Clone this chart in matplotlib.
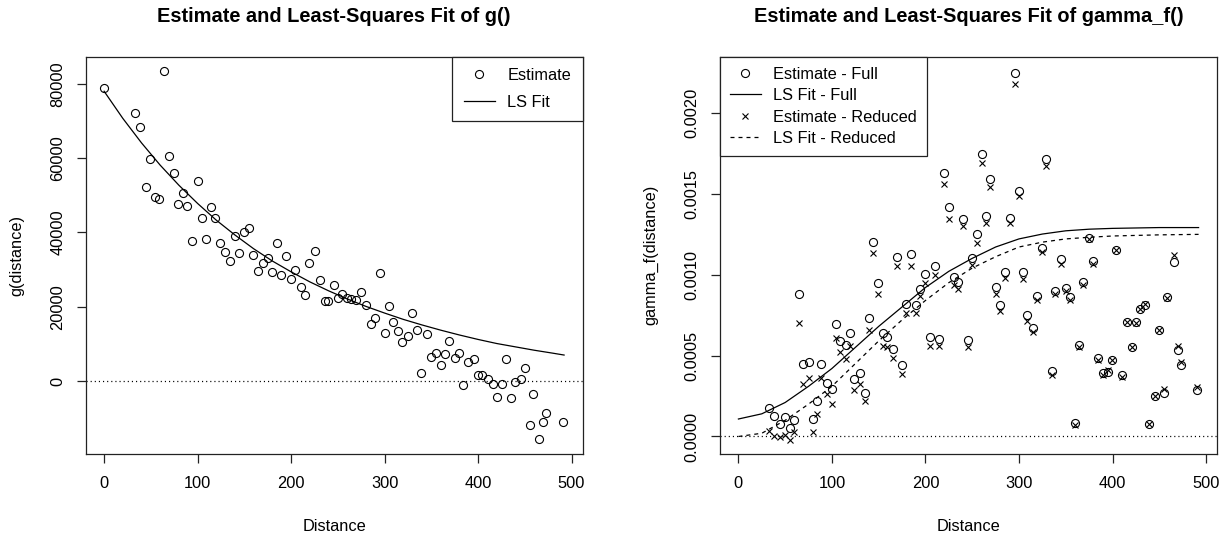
import matplotlib
matplotlib.use("Agg")
import matplotlib.pyplot as plt
import numpy as np

plt.rcParams['font.family'] = ['Liberation Sans', 'DejaVu Sans']

# ---- left panel: empirical g() and its LS fit
g_dist = [0, 33, 38.3, 44.3, 49.6, 54.3, 58.9, 64.5, 69, 75.2, 79.4, 84, 88.3, 94.3,
          100, 104.6, 108.9, 114.5, 119, 123.8, 129.4, 135, 139.7, 144.3, 149.6, 154.6,
          158.9, 164.9, 169.5, 175.2, 179.8, 185.1, 189.7, 194.3, 199.6, 204.6, 210.3,
          214.9, 219, 225.2, 230.5, 235.8, 240, 245.4, 250, 254.6, 259.9, 264.2, 269.5,
          274.8, 279.8, 285.1, 289.7, 295.4, 300, 304.3, 309.2, 314.6, 319.1, 324.8,
          329.4, 335.1, 338.6, 345.4, 350, 354.6, 360.3, 364.6, 369.1, 375.2, 379.8,
          384, 389.7, 395.4, 400, 404.3, 410.3, 416, 420.6, 425.2, 429.5, 435.1, 439.7,
          445.4, 450, 455.3, 459.2, 465.6, 469.5, 472.7, 491.1]
g_est = [79000, 72200, 68430, 52100, 59800, 49500, 49100, 83330, 60600, 56000, 47770,
         50560, 47230, 37720, 53800, 44000, 38250, 46880, 44000, 37090, 34840, 32240,
         39150, 34570, 40230, 41130, 33940, 29640, 31880, 33040, 29360, 37090, 28560,
         33680, 27480, 29900, 25320, 23250, 31700, 35100, 27200, 21470, 21470, 25860,
         22360, 23350, 22360, 22090, 21730, 23890, 20470, 15270, 16890, 29010, 12930,
         20120, 15810, 13470, 10590, 12040, 18400, 13820, 2240, 12660, 6550, 7460, 4230,
         7190, 10690, 6280, 7460, -1160, 5120, 6010, 1700, 1700, 540, -890, -4310, -890,
         6010, -4580, -270, 540, 3420, -11770, -3500, -15540, -10960, -8710, -10960]

g_fit_dist = [0, 20, 40, 60, 80, 100, 120, 140, 160, 180, 200, 220, 240, 260, 280,
              300, 320, 340, 360, 380, 400, 420, 440, 460, 480, 492]
g_fit = [78000, 70700, 64100, 58100, 52700, 47800, 43300, 39300, 35600, 32300, 29400,
         26700, 24300, 22100, 20100, 18300, 16600, 15100, 13700, 12400, 11200, 10100,
         9200, 8300, 7500, 7000]

# ---- right panel: gamma_f() for the full and reduced models
gf_dist = [32.9, 38.5, 44.2, 49.9, 54.9, 59.4, 64.8, 69.4, 75.0, 79.3, 84.2, 88.5, 94.8,
           99.8, 104.8, 109.0, 114.6, 119.6, 123.9, 129.6, 135.6, 139.8, 144.4, 149.7,
           155.0, 159.2, 165.3, 169.1, 174.8, 179.7, 185.0, 189.7, 194.6, 199.9, 204.9,
           209.8, 214.8, 219.4, 224.9, 230.4, 235.3, 239.6, 245.2, 250.2, 254.8, 260.4,
           265.1, 269.3, 275.0, 279.9, 284.8, 290.5, 295.5, 299.7, 304.6, 309.0, 315.0,
           319.5, 324.8, 329.1, 335.1, 338.3, 345.3, 350.0, 354.2, 360.2, 364.4, 368.9,
           374.7, 379.0, 384.2, 389.6, 395.3, 399.9, 403.7, 410.1, 415.8, 420.4, 424.6,
           429.2, 435.2, 439.5, 445.1, 449.8, 455.4, 458.6, 465.7, 469.6, 473.4, 490.8]
gf_full = [0.000174, 0.000129, 0.000075, 0.000118, 0.000055, 0.000100, 0.000879, 0.000447,
           0.000461, 0.000108, 0.000218, 0.000447, 0.000330, 0.000291, 0.000692, 0.000591,
           0.000565, 0.000638, 0.000353, 0.000389, 0.000271, 0.000734, 0.001200, 0.000950,
           0.000638, 0.000612, 0.000540, 0.001108, 0.000443, 0.000820, 0.001128, 0.000814,
           0.000912, 0.001004, 0.000612, 0.001050, 0.000600, 0.001630, 0.001417, 0.000985,
           0.000952, 0.001340, 0.000597, 0.001100, 0.001250, 0.001744, 0.001360, 0.001589,
           0.000924, 0.000814, 0.001013, 0.001352, 0.002244, 0.001515, 0.001013, 0.000748,
           0.000669, 0.000867, 0.001163, 0.001714, 0.000404, 0.000897, 0.001097, 0.000918,
           0.000860, 0.000083, 0.000565, 0.000955, 0.001224, 0.001085, 0.000483, 0.000389,
           0.000401, 0.000475, 0.001152, 0.000377, 0.000710, 0.000555, 0.000706, 0.000785,
           0.000812, 0.000077, 0.000253, 0.000659, 0.000271, 0.000860, 0.001080, 0.000536,
           0.000442, 0.000285]
gf_red = [0.000031, 0.000000, -0.000006, 0.000010, -0.000024, 0.000030, 0.000698, 0.000326,
          0.000361, 0.000030, 0.000136, 0.000361, 0.000265, 0.000200, 0.000608, 0.000520,
          0.000479, 0.000557, 0.000289, 0.000326, 0.000218, 0.000659, 0.001132, 0.000879,
          0.000557, 0.000550, 0.000485, 0.001050, 0.000383, 0.000761, 0.001054, 0.000761,
          0.000870, 0.000950, 0.000557, 0.001000, 0.000557, 0.001556, 0.001340, 0.000938,
          0.000912, 0.001299, 0.000551, 0.001060, 0.001197, 0.001689, 0.001316, 0.001540,
          0.000879, 0.000775, 0.000979, 0.001316, 0.002176, 0.001483, 0.000973, 0.000714,
          0.000643, 0.000842, 0.001140, 0.001668, 0.000380, 0.000880, 0.001067, 0.000900,
          0.000840, 0.000070, 0.000550, 0.000936, 0.001220, 0.001065, 0.000475, 0.000380,
          0.000410, 0.000470, 0.001150, 0.000370, 0.000705, 0.000550, 0.000700, 0.000790,
          0.000820, 0.000075, 0.000250, 0.000655, 0.000296, 0.000858, 0.001122, 0.000561,
          0.000463, 0.000306]

gf_fit_dist = [0, 25, 50, 75, 100, 125, 150, 175, 200, 225, 250, 275, 300, 325, 350,
               375, 400, 450, 492]
gf_fit_full = [0.000108, 0.000140, 0.000210, 0.000310, 0.000420, 0.000550, 0.000680,
               0.000800, 0.000920, 0.001020, 0.001100, 0.001170, 0.001220, 0.001250,
               0.001270, 0.001280, 0.001285, 0.001290, 0.001290]
gf_fit_red = [0.000000, 0.000020, 0.000100, 0.000200, 0.000310, 0.000450, 0.000590,
              0.000720, 0.000840, 0.000950, 0.001040, 0.001110, 0.001170, 0.001200,
              0.001220, 0.001230, 0.001238, 0.001245, 0.001248]

W, H = 1231, 537
fig = plt.figure(figsize=(W / 100, H / 100), dpi=100)

def r_style(ax, xlabel, ylabel, title):
    # base-R look: full box, outward ticks, rotated y labels
    for s in ax.spines.values():
        s.set_linewidth(0.9)
        s.set_color('#222222')
    ax.tick_params(direction='out', length=6.5, width=0.9, colors='#222222',
                   labelsize=11.8, pad=10, labelcolor='black')
    ax.tick_params(axis='y', labelrotation=90, pad=8)
    for lab in ax.get_yticklabels():
        lab.set_va('center')
    ax.set_xlabel(xlabel, fontsize=11.8, labelpad=20)
    ax.set_ylabel(ylabel, fontsize=11.8, labelpad=19)
    ax.set_title(title, fontsize=14.4, fontweight='bold', pad=25)
    ax.set_xticks([0, 100, 200, 300, 400, 500])
    ax.axhline(0, color='black', lw=0.9, dashes=(0.9, 2.4))

leg_kw = dict(frameon=True, fancybox=False, framealpha=1, edgecolor='#222222',
              fontsize=11.8, borderaxespad=0, handlelength=1.9, handletextpad=0.75)

# left
ax1 = fig.add_axes([85.7 / W, 1 - 453.5 / H, 496.8 / W, 396.8 / H])
ax1.plot(g_dist, g_est, 'o', mfc='none', mec='black', ms=5.8, mew=0.8, label='Estimate')
ax1.plot(g_fit_dist, g_fit, '-', color='black', lw=0.9, label='LS Fit')
ax1.set_xlim(-19.7, 511.7)
ax1.set_ylim(-19500, 87300)
ax1.set_yticks([0, 20000, 40000, 60000, 80000])
r_style(ax1, 'Distance', 'g(distance)', 'Estimate and Least-Squares Fit of g()')
lg = ax1.legend(loc='upper right', borderpad=0.7, labelspacing=0.7, **leg_kw)
lg.get_frame().set_linewidth(0.9)

# right
ax2 = fig.add_axes([720 / W, 1 - 453.5 / H, 497 / W, 396.8 / H])
ax2.plot(gf_dist, gf_full, 'o', mfc='none', mec='black', ms=5.8, mew=0.8,
         label='Estimate - Full')
ax2.plot(gf_fit_dist, gf_fit_full, '-', color='black', lw=0.9, label='LS Fit - Full')
ax2.plot(gf_dist, gf_red, 'x', color='black', ms=4.2, mew=0.8, label='Estimate - Reduced')
ax2.plot(gf_fit_dist, gf_fit_red, color='black', lw=0.9, dashes=(3.2, 3.2),
         label='LS Fit - Reduced')
ax2.set_xlim(-19.7, 511.7)
ax2.set_ylim(-0.000105, 0.002345)
ax2.set_yticks([0, 0.0005, 0.001, 0.0015, 0.002])
ax2.set_yticklabels(['0.0000', '0.0005', '0.0010', '0.0015', '0.0020'])
r_style(ax2, 'Distance', 'gamma_f(distance)', 'Estimate and Least-Squares Fit of gamma_f()')
lg = ax2.legend(loc='upper left', borderpad=0.6, labelspacing=0.4, **leg_kw)
lg.get_frame().set_linewidth(0.9)

fig.savefig('out.png', dpi=100)
